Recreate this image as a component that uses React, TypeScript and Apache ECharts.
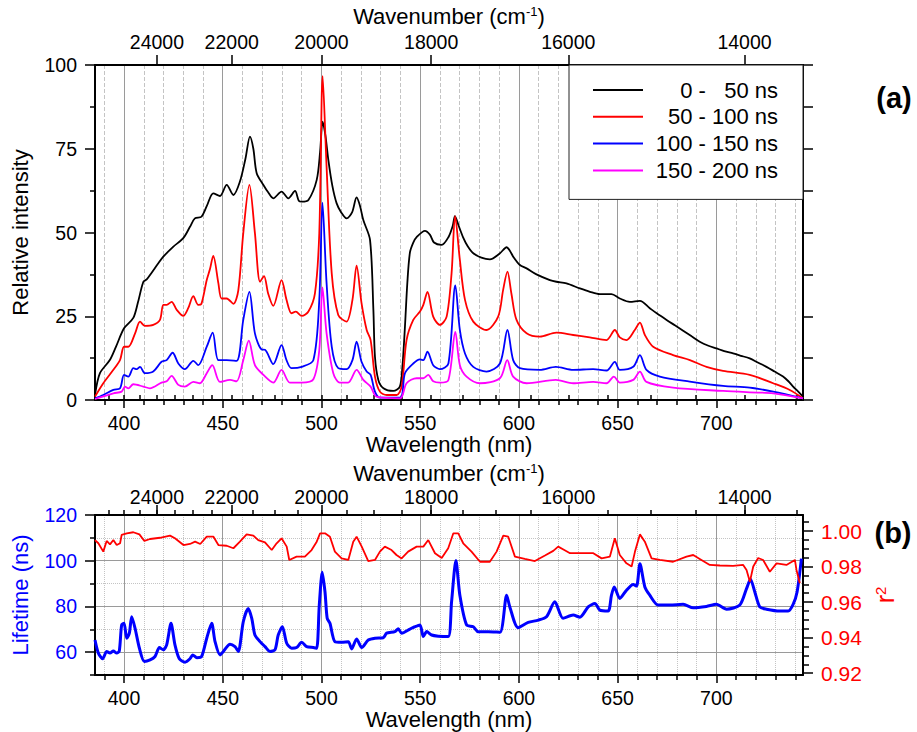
import React, { useEffect, useRef } from "react";
import * as echarts from "echarts";

const FONT = "'Liberation Sans', Arial, Helvetica, sans-serif";

// ---------- data ----------
const seriesNames = ["0 -   50 ns", "50 - 100 ns", "100 - 150 ns", "150 - 200 ns"];
const seriesColors = ["#000000", "#ff0000", "#0000ff", "#ff00ff"];

const intensity0to50: [number, number][] = [
  [385.3, 1.5], [387.8, 8], [392.9, 12], [396, 16], [400, 21.4], [404.7, 24.5], [407, 29], [409.8, 35.3],
  [411.5, 36], [414, 38], [417, 40.5], [419.9, 42.8], [425, 45.8], [430, 48.3], [433.4, 51.7], [435.9, 54.2],
  [439.2, 54.7], [442, 58], [445.2, 61.7], [448.6, 60.9], [452, 64.2], [455.4, 61.2], [458.7, 65.2], [461.5, 72],
  [463.8, 78.6], [465.5, 75], [467.2, 67.7], [470.6, 64.2], [473, 62], [475.6, 60.2], [479.8, 62.2], [483.2, 60.2],
  [486.6, 62.4], [488.5, 59.5], [490, 59.2], [493.4, 59.7], [497.6, 65.7], [499.3, 74], [500.6, 83.1], [502, 79],
  [503.5, 71.6], [505.5, 64], [507.7, 58.7], [510, 56], [512.7, 54.2], [515.5, 56], [517.8, 60.5], [519.5, 58],
  [521.2, 53.7], [524.6, 47.8], [526.3, 26.9], [527.1, 12.9], [528.8, 6], [531.4, 3.5], [536.4, 2.7], [539.7, 4],
  [541, 10], [542.3, 22], [543.5, 35], [544.8, 44], [546.5, 47], [548.2, 48.6], [552.4, 50.5], [555, 49.3],
  [557, 47], [560.9, 46.3], [564.3, 48.6], [566.5, 52], [567.6, 54.9], [569.5, 52], [571.8, 48.5], [574, 46],
  [576.9, 43.8], [581, 42.5], [585.3, 42], [590.4, 43.8], [593.8, 45.6], [595.5, 44.5], [597.1, 42.8], [600.5, 40.3],
  [603.9, 39.3], [608.9, 37.5], [615.7, 35.8], [619, 35.3], [624.1, 34.8], [630.9, 33.3], [636, 32.3], [641, 31.6],
  [646.9, 31.6], [651.1, 30.3], [656.2, 29.3], [661.3, 29.6], [666.3, 27.4], [670, 25.8], [674.8, 23.9], [679, 22.3],
  [683.2, 20.7], [687.5, 19], [691.6, 17.4], [696, 16.2], [700, 15.4], [704, 14.6], [708.5, 13.9], [712.5, 13.2],
  [716.9, 12.4], [721, 11.2], [725.4, 9.9], [729.5, 8.5], [733.8, 7], [736.5, 5.6], [738.9, 4], [741.5, 2.5], [743.9, 1],
];

const intensity50to100: [number, number][] = [
  [385.3, 1], [389.5, 5], [394.6, 9], [398, 12], [400, 15.9], [402.2, 15.9], [405.6, 19.9], [408.1, 23.4],
  [410.6, 22.1], [414.8, 22.4], [418.2, 23.9], [419.9, 28.4], [421.6, 28.4], [424.1, 29.3], [426.7, 26.9], [430, 25.1],
  [432.5, 27.4], [435.1, 31], [437.6, 28.4], [439.2, 28.7], [441.9, 35.8], [443.5, 39], [445.2, 43], [447.8, 34.8],
  [449.4, 30.3], [452, 30.3], [455.4, 28.7], [457.9, 32.8], [460.4, 49.8], [463.5, 64.2], [466.3, 49.8], [468.9, 35.3],
  [470.9, 37], [473, 31.8], [475.6, 28.1], [479.8, 35.8], [482.3, 29.9], [484.8, 25.9], [487, 26.4], [490, 25.1],
  [493.4, 26.4], [496.7, 31.8], [498.9, 49.8], [500.6, 96.7], [502.6, 69.6], [505.2, 37.8], [508.5, 25.4], [512.7, 23.4],
  [515.7, 29.9], [517.8, 40.1], [520.3, 28.9], [522.9, 20.9], [524.9, 17.9], [527.1, 7], [529.6, 2.5], [533, 1.5],
  [538.1, 1.5], [540.6, 4], [543.1, 17.9], [546.5, 23.9], [549.9, 26.4], [551.6, 28.4], [553.7, 32.3], [556.6, 24.9],
  [560, 22.4], [563.4, 24.9], [565.9, 37.8], [567.7, 54.9], [570.1, 41.8], [572.7, 29.9], [576.9, 23.4], [583.6, 20.9],
  [589.5, 24.9], [592, 32.8], [594.2, 38.3], [596.2, 31.8], [598.8, 23.9], [603.9, 19.9], [610.6, 18.9], [619, 20.1],
  [627.5, 19.4], [635.9, 18.7], [644.4, 17.9], [648.6, 20.9], [651.1, 18.7], [654.5, 17.9], [658.7, 20.9], [661.3, 23.1],
  [663.8, 19.4], [668, 15.9], [678.1, 13.4], [686.6, 11.9], [695, 9.9], [703.4, 8.7], [716.9, 7.5], [728.8, 5],
  [737.2, 3], [743.9, 0.5],
];

const intensity100to150: [number, number][] = [
  [385.3, 0.5], [389.5, 1.5], [394.6, 3], [398, 3.5], [400, 7.5], [402.2, 7], [404.7, 9.5], [406.4, 9.2],
  [408.1, 9.9], [410.6, 8], [414.8, 8.5], [419, 11.4], [421.6, 11.9], [424.6, 14.1], [427.5, 10.9], [430.8, 9.2],
  [435.1, 11.7], [437.6, 10.4], [441.9, 15.9], [444.9, 20.1], [447.8, 11.9], [452, 11.9], [457, 11.7], [460.4, 23.9],
  [463.5, 32.3], [466.3, 19.9], [469.7, 15.1], [471.4, 15], [475.6, 10.7], [479.8, 16.4], [482.3, 11.9], [484.8, 9.5],
  [490, 9.9], [495.9, 11.9], [498.9, 29.9], [500.5, 58.9], [502.6, 34.8], [505.2, 15.9], [508.5, 9.5], [512.7, 9.2],
  [515.7, 11.9], [517.8, 17.4], [520.3, 11.4], [522.9, 8.5], [524.9, 7.5], [527.1, 2.5], [529.6, 0.7], [539.8, 0.7],
  [542.3, 8], [546.5, 10.9], [549.9, 12.1], [551.6, 11.9], [553.7, 14.4], [556.6, 10.4], [560, 9.2], [564.3, 10.9],
  [567.8, 34.2], [570.1, 20.9], [572.7, 13.9], [576.9, 9.9], [583.6, 8.5], [590.4, 10.9], [594.2, 20.9], [597.1, 11.9],
  [600.5, 9.5], [610.6, 9], [618.7, 9.9], [627.5, 9], [637.6, 9.2], [644.4, 8.8], [648.6, 11.4], [651.1, 9],
  [657.9, 9.9], [661.3, 13.4], [664.6, 9], [671.4, 7], [686.6, 5.5], [703.4, 4.2], [716.9, 3.7], [728.8, 2.5], [743.9, 0.5],
];

const intensity150to200: [number, number][] = [
  [385.3, 0.3], [394.6, 2], [398.8, 2.5], [400.5, 4], [402.2, 3.5], [404.7, 4.7], [409.8, 4], [413.1, 3.5],
  [419, 5.2], [421.6, 5.6], [424.1, 7.2], [427.5, 4.5], [430.8, 4], [435.1, 5.4], [438.4, 5], [441.9, 8],
  [444.7, 10.4], [448.6, 5.4], [453.7, 6], [457, 5.6], [460.4, 11.9], [463.2, 17.7], [466.3, 10.4], [470.6, 7.5],
  [475.6, 5.2], [479.8, 9], [484, 5.2], [490, 5.2], [495.9, 6.2], [498.9, 14.9], [500.5, 33.6], [502.6, 19.9],
  [506, 8], [509.3, 5.2], [513.5, 5.2], [517.8, 9], [521.2, 6], [524.9, 4], [527.9, 1], [539.8, 0.5],
  [543.1, 5], [548.2, 6.5], [551.6, 6.5], [554.1, 7.5], [556.6, 5.6], [560, 5.2], [564.3, 6], [567.8, 20.3],
  [570.1, 10.4], [573.5, 7], [580.3, 5], [590.4, 6.5], [594.1, 11.9], [597.1, 7], [603.9, 5], [618.7, 6],
  [627.5, 5], [637.6, 5.4], [644.4, 5], [648.1, 7], [651.1, 5.2], [657.9, 6], [661.3, 8.5], [664.6, 5.4],
  [678.1, 3.7], [703.4, 2.7], [716.9, 2.3], [728.8, 2], [743.9, 0.5],
];

const lifetime: [number, number][] = [
  [385.3, 65.3], [387, 59.6], [389.2, 57.1], [391.2, 60.3], [392.9, 59.6], [394.6, 60.5], [396.3, 59.6], [397.6, 60.5],
  [398.8, 71.9], [400, 72.6], [401.4, 66.1], [402.7, 68.3], [403.9, 75.5], [405.6, 70.4], [407.8, 61.7], [410.3, 55.9],
  [413.2, 56.6], [415.7, 58.1], [417.9, 62], [419.9, 61], [421.6, 63.2], [423.8, 72.6], [425.8, 63.2], [428, 57.1],
  [430.9, 55.6], [433.4, 57.1], [434.8, 58.8], [436.9, 57.6], [439.3, 58.1], [441.9, 66.1], [444.4, 72.6], [446.1, 64.6],
  [448.6, 58.8], [450.3, 60.3], [453.7, 63.5], [456.2, 62.4], [457.9, 60.3], [460.4, 73.3], [462.9, 79.1], [464.7, 74.8],
  [466.3, 67.5], [468.9, 64.6], [471.4, 62.4], [473.9, 60.3], [476.5, 61.1], [478.1, 67.5], [480.2, 71.1], [482.4, 63.9],
  [484.9, 61.7], [487.4, 62], [490, 64.3], [492.5, 62.4], [495.9, 62], [497.6, 61.7], [498.9, 80.6], [500.4, 95],
  [501.8, 86.3], [502.9, 74.8], [504.3, 72.6], [506.8, 64.6], [510.2, 64.3], [513.6, 64.6], [515.3, 61.4], [517.8, 65.8],
  [520.4, 62], [523.7, 65.3], [527.1, 66.1], [531.3, 66.3], [533, 68.3], [537.2, 69], [538.9, 70.2], [540.6, 68.3],
  [544.8, 70.1], [547, 71], [549.9, 71.9], [551.6, 66.8], [553.3, 69], [555.8, 67.5], [559.2, 67], [564.2, 66.8],
  [565.9, 82], [568.1, 100.1], [570.1, 84.9], [573.5, 71.9], [576.9, 71.1], [579.4, 68.9], [584.5, 68.9], [590.4, 68.7],
  [593.8, 84.9], [595.4, 79.8], [599.6, 70.7], [604.7, 73], [609.8, 74], [614, 75.5], [618.2, 82], [622.4, 74.8],
  [627.5, 76.2], [630.9, 75.3], [635.1, 79.8], [638.5, 81.3], [641, 78.4], [645.2, 78], [646.9, 84.9], [648.3, 88.5],
  [651.1, 83.5], [654.5, 87.1], [657.9, 89.6], [659.6, 88.9], [661.3, 98.7], [663.8, 88.5], [666.3, 84.9], [670.5, 80.6],
  [676.5, 80.6], [683.2, 80.9], [688.3, 79.4], [695, 80], [700, 80.9], [705.2, 78.8], [711.9, 80.6], [715.3, 87.8],
  [717.3, 91.9], [719.5, 86.3], [722, 79.8], [725.4, 78.8], [732.2, 78], [736.4, 78], [738.9, 80.9], [740.9, 86.3],
  [743.1, 100.9],
];

const rSquared: [number, number][] = [
  [385.3, 0.9949], [387, 0.9931], [389.5, 0.9884], [391.2, 0.9944], [392.9, 0.9925], [394.6, 0.9949], [396.3, 0.9921],
  [398, 0.9931], [398.8, 0.9978], [401.4, 0.9987], [404.7, 0.9993], [407.8, 0.9981], [410.3, 0.9944], [413.2, 0.9955],
  [418.2, 0.9962], [423.3, 0.9974], [425.8, 0.9959], [430.1, 0.9921], [433.4, 0.9927], [436, 0.994], [438.6, 0.9927],
  [441.9, 0.9968], [445.3, 0.9968], [447.8, 0.9921], [452, 0.9917], [455.4, 0.9903], [458.7, 0.994], [462.1, 0.9981],
  [465.5, 0.9974], [468, 0.9949], [471.4, 0.9936], [474.8, 0.9893], [477.3, 0.9931], [479.8, 0.9959], [482.4, 0.9912],
  [483.7, 0.9837], [487.4, 0.9856], [491.6, 0.9856], [495, 0.9893], [497.6, 0.994], [499.3, 0.9987], [501.8, 0.9987],
  [504.3, 0.9968], [506.8, 0.9884], [510.2, 0.9846], [513.6, 0.9837], [516.1, 0.994], [517.8, 0.9968], [520.4, 0.9912],
  [523.7, 0.9831], [527.1, 0.9837], [529.6, 0.9884], [532.1, 0.9912], [535.5, 0.9893], [538, 0.9865], [540.6, 0.9846],
  [543.9, 0.9884], [548.2, 0.9912], [551.6, 0.9912], [554.1, 0.9949], [557.5, 0.9875], [560.9, 0.9848], [564.2, 0.9903],
  [566.8, 0.9987], [569.3, 0.9987], [571.8, 0.9931], [576, 0.9884], [580.3, 0.9827], [585.3, 0.9827], [588.7, 0.9884],
  [592.1, 0.9974], [594.6, 0.9968], [598, 0.9856], [603, 0.9843], [608.1, 0.9831], [613.2, 0.9862], [617.4, 0.9888],
  [619.9, 0.9912], [623, 0.9893], [625.9, 0.9875], [630.9, 0.9875], [637.7, 0.9875], [641.9, 0.9846], [646.1, 0.9856],
  [648.6, 0.9959], [651.1, 0.9865], [654.5, 0.9818], [657.1, 0.98], [658.8, 0.9884], [661.3, 0.9981], [663.8, 0.994],
  [667.2, 0.9846], [671.4, 0.9837], [678.1, 0.9827], [684.9, 0.9856], [688.3, 0.9865], [691.6, 0.9843], [696.7, 0.9809],
  [701.8, 0.9806], [708.5, 0.9804], [713.6, 0.9809], [715.3, 0.9781], [717, 0.9715], [718.7, 0.98], [721.2, 0.9848],
  [723.7, 0.9837], [727.1, 0.9771], [730.5, 0.9818], [735.5, 0.9809], [739.8, 0.9837], [740.6, 0.9781], [742.3, 0.9706],
];

// tick labels
const wavelengthLabels = [400, 450, 500, 550, 600, 650, 700];
const wavenumberLabels = [24000, 22000, 20000, 18000, 16000, 14000];
const intensityLabels = [0, 25, 50, 75, 100];
const lifetimeLabels = [60, 80, 100, 120];
const lifetimeMinor = [50, 70, 90, 110];
const r2Labels = [0.92, 0.94, 0.96, 0.98, 1.0];

// ---------- axis helpers ----------
const WL_MIN = 385.3;
const WL_MAX = 743.9;

const wavelengthMinor: number[] = [];
for (let v = 390; v <= 740; v += 10) if (v % 50 !== 0) wavelengthMinor.push(v);
const wnMajorNm = wavenumberLabels.map((w) => 1e7 / w);
const wnMinorNm: number[] = [];
for (let w = 13500; w <= 25500; w += 500) wnMinorNm.push(1e7 / w);
const r2Minor: number[] = [];
for (let k = 184; k <= 201; k++) if (k % 4 !== 0) r2Minor.push(+(k * 0.005).toFixed(3));

const tickStyle = { color: "#000", width: 1.5 };
const frameLine = { show: true, onZero: false, lineStyle: { color: "#000", width: 2 } };
const supRich = (color: string, size: number) => ({
  sup: { fontSize: size, verticalAlign: "top", color, fontFamily: FONT, lineHeight: size },
});

function xAxesFor(
  gridIndex: number,
  c: { labelMargin: number; nameGap: number; topLabelMargin: number; topNameGap: number; minorType: string }
) {
  return [
    {
      type: "value", gridIndex, position: "bottom", min: WL_MIN, max: WL_MAX,
      axisLine: frameLine,
      axisTick: { show: true, customValues: wavelengthLabels, length: 8, lineStyle: tickStyle },
      axisLabel: { customValues: wavelengthLabels, fontSize: 19.5, color: "#000", margin: c.labelMargin },
      splitLine: { show: true, lineStyle: { color: "#9a9a9a", width: 1 } },
      name: "Wavelength (nm)", nameLocation: "middle", nameGap: c.nameGap,
      nameTextStyle: { fontSize: 22, color: "#000" },
    },
    {
      type: "value", gridIndex, position: "bottom", min: WL_MIN, max: WL_MAX,
      axisLine: { show: false },
      axisTick: { show: true, customValues: wavelengthMinor, length: 5, lineStyle: tickStyle },
      axisLabel: { show: false },
      splitLine: { show: true, lineStyle: { color: "#c4c4c4", width: 1, type: c.minorType } },
    },
    {
      type: "value", gridIndex, position: "top", min: WL_MIN, max: WL_MAX,
      axisLine: frameLine,
      axisTick: { show: true, customValues: wnMajorNm, length: 10, lineStyle: tickStyle },
      axisLabel: {
        customValues: wnMajorNm, fontSize: 19.5, color: "#000", margin: c.topLabelMargin,
        formatter: (v: number) => String(Math.round(1e7 / v)),
      },
      splitLine: { show: false },
      name: "Wavenumber (cm{sup|-1})", nameLocation: "middle", nameGap: c.topNameGap,
      nameTextStyle: { fontSize: 22, color: "#000", rich: supRich("#000", 13) },
    },
    {
      type: "value", gridIndex, position: "top", min: WL_MIN, max: WL_MAX,
      axisLine: { show: false },
      axisTick: { show: true, customValues: wnMinorNm, length: 5, lineStyle: tickStyle },
      axisLabel: { show: false },
      splitLine: { show: false },
    },
  ];
}

export default function App() {
  const ref = useRef<HTMLDivElement>(null);

  useEffect(() => {
    if (!ref.current) return;
    const chart = echarts.init(ref.current, null, { renderer: "svg" });

    const spectra = [intensity0to50, intensity50to100, intensity100to150, intensity150to200];

    const option: any = {
      animation: false,
      backgroundColor: "#fff",
      textStyle: { fontFamily: FONT },
      grid: [
        { left: 95, top: 65, width: 708, height: 335, containLabel: false },
        { left: 95, top: 515, width: 708, height: 160, containLabel: false },
      ],
      xAxis: [
        ...xAxesFor(0, { labelMargin: 13, nameGap: 30, topLabelMargin: 13, topNameGap: 38, minorType: "dashed" }),
        ...xAxesFor(1, { labelMargin: 13, nameGap: 28, topLabelMargin: 8, topNameGap: 31, minorType: "dotted" }),
      ],
      yAxis: [
        {
          type: "value", gridIndex: 0, position: "left", min: 0, max: 100, interval: 25,
          axisLine: frameLine,
          axisTick: { show: true, length: 10, lineStyle: tickStyle },
          minorTick: { show: true, splitNumber: 2, length: 5, lineStyle: tickStyle },
          axisLabel: { customValues: intensityLabels, fontSize: 19.5, color: "#000", margin: 18 },
          splitLine: { show: false },
          name: "Relative intensity", nameLocation: "middle", nameGap: 64, nameRotate: 90,
          nameTextStyle: { fontSize: 22, color: "#000" },
        },
        {
          type: "value", gridIndex: 0, position: "right", min: 0, max: 100, interval: 12.5,
          axisLine: frameLine,
          axisTick: { show: true, length: 10, lineStyle: tickStyle },
          axisLabel: { show: false },
          splitLine: { show: false },
        },
        {
          type: "value", gridIndex: 1, position: "left", min: 50, max: 120,
          axisLine: frameLine,
          axisTick: { show: true, customValues: lifetimeLabels, length: 10, lineStyle: tickStyle },
          axisLabel: { customValues: lifetimeLabels, fontSize: 19.5, color: "#0000ff", margin: 18 },
          splitLine: { show: true, lineStyle: { color: "#9a9a9a", width: 1 } },
          name: "Lifetime (ns)", nameLocation: "middle", nameGap: 64, nameRotate: 90,
          nameTextStyle: { fontSize: 22, color: "#0000ff" },
        },
        {
          type: "value", gridIndex: 1, position: "left", min: 50, max: 120,
          axisLine: { show: false },
          axisTick: { show: true, customValues: lifetimeMinor, length: 5, lineStyle: tickStyle },
          axisLabel: { show: false },
          splitLine: { show: true, lineStyle: { color: "#c4c4c4", width: 1, type: "dotted" } },
        },
        {
          type: "value", gridIndex: 1, position: "right", min: 0.919, max: 1.009,
          axisLine: frameLine,
          axisTick: { show: true, customValues: r2Labels, length: 10, lineStyle: tickStyle },
          axisLabel: {
            customValues: r2Labels, fontSize: 21, color: "#ff0000", margin: 18,
            formatter: (v: number) => v.toFixed(2),
          },
          splitLine: { show: false },
          name: "r{sup|2}", nameLocation: "middle", nameGap: 68, nameRotate: 90,
          nameTextStyle: { fontSize: 25, color: "#ff0000", rich: supRich("#ff0000", 15) },
        },
        {
          type: "value", gridIndex: 1, position: "right", min: 0.919, max: 1.009,
          axisLine: { show: false },
          axisTick: { show: true, customValues: r2Minor, length: 6, lineStyle: tickStyle },
          axisLabel: { show: false },
          splitLine: { show: false },
        },
      ],
      legend: {
        data: seriesNames,
        orient: "vertical",
        left: 569,
        top: 65,
        padding: [14, 25, 18, 24],
        icon: "rect",
        itemWidth: 50,
        itemHeight: 2,
        itemGap: 4.8,
        backgroundColor: "#fff",
        borderColor: "#222",
        borderWidth: 1,
        borderRadius: 0,
        selectedMode: false,
        formatter: (n: string) => `{a|${n}}`,
        textStyle: {
          color: "#000",
          fontSize: 22,
          rich: { a: { width: 130, align: "right", fontSize: 22, lineHeight: 20, color: "#000", fontFamily: FONT } },
        },
      },
      graphic: [
        {
          type: "text", x: 894, y: 98,
          style: { text: "(a)", fontSize: 29, fontWeight: "bold", fontFamily: FONT, fill: "#000", align: "center", verticalAlign: "middle", textAlign: "center", textVerticalAlign: "middle" },
        },
        {
          type: "text", x: 893, y: 533,
          style: { text: "(b)", fontSize: 29, fontWeight: "bold", fontFamily: FONT, fill: "#000", align: "center", verticalAlign: "middle", textAlign: "center", textVerticalAlign: "middle" },
        },
      ],
      series: [
        ...spectra.map((d, i) => ({
          type: "line",
          name: seriesNames[i],
          data: d,
          xAxisIndex: 0,
          yAxisIndex: 0,
          symbol: "none",
          showSymbol: false,
          smooth: 0.3,
          lineStyle: { color: seriesColors[i], width: 1.8 },
          itemStyle: { color: seriesColors[i] },
          z: 2 + i,
        })),
        {
          type: "line", name: "Lifetime", data: lifetime, xAxisIndex: 4, yAxisIndex: 2,
          symbol: "none", showSymbol: false, smooth: 0.25,
          lineStyle: { color: "#0000ff", width: 3 }, itemStyle: { color: "#0000ff" }, z: 3,
        },
        {
          type: "line", name: "r2", data: rSquared, xAxisIndex: 4, yAxisIndex: 4,
          symbol: "none", showSymbol: false,
          lineStyle: { color: "#ff0000", width: 1.8 }, itemStyle: { color: "#ff0000" }, z: 4,
        },
      ],
    };

    chart.setOption(option);
    return () => chart.dispose();
  }, []);

  return (
    <div
      ref={ref}
      style={{ position: "absolute", left: 0, top: 0, width: 917, height: 732, background: "#fff" }}
    />
  );
}
